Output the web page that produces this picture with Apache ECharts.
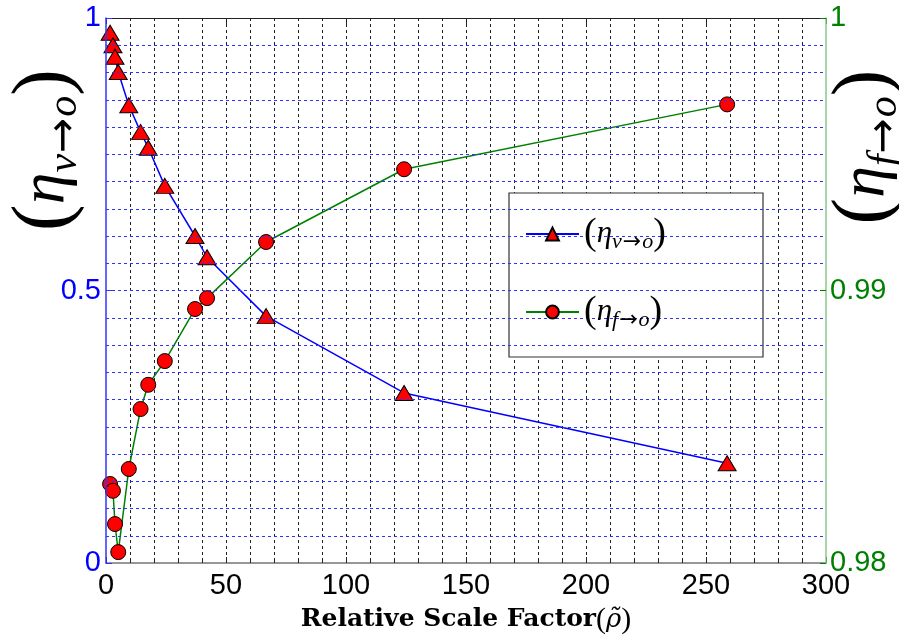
<!DOCTYPE html>
<html>
<head>
<meta charset="utf-8">
<script src="https://cdn.jsdelivr.net/npm/echarts@6/dist/echarts.min.js"></script>
<style>
  html, body { margin: 0; padding: 0; background: #fff; }
  #chart { width: 899px; height: 635px; }
</style>
</head>
<body>
<div id="chart"></div>
<script>
// relative scale factor (x) for both curves
const scaleFactor = [1.7, 2.9, 3.75, 5.1, 9.5, 14.4, 17.6, 24.5, 37.1, 42.1, 66.7, 124.2, 258.8];
// eta v->o (left axis)
const etaVO = [0.973, 0.950, 0.929, 0.901, 0.840, 0.791, 0.762, 0.692, 0.600, 0.561, 0.453, 0.312, 0.183];
// eta f->o (right axis)
const etaFO = [0.98290, 0.98265, 0.98143, 0.98040, 0.98345, 0.98565, 0.98654, 0.98741, 0.98932, 0.98972, 0.99178, 0.99445, 0.99683];
const xTicks = [0, 50, 100, 150, 200, 250, 300];
const seriesNames = ['etaVO', 'etaFO'];

const chart = echarts.init(document.getElementById('chart'));

const mathFont = '"Liberation Serif", "DejaVu Serif", serif';

// rich styles for math labels; sub sits lower than main
const mathRich = (color, main, paren, sub) => ({
  p: { fontFamily: mathFont, fontSize: paren, color: color, lineHeight: paren, verticalAlign: 'middle' },
  e: { fontFamily: mathFont, fontStyle: 'italic', fontSize: main, color: color, lineHeight: paren, verticalAlign: 'middle' },
  s: { fontFamily: mathFont, fontStyle: 'italic', fontSize: sub, color: color, lineHeight: sub, verticalAlign: 'bottom' },
  a: { fontFamily: '"DejaVu Sans", sans-serif', fontSize: sub, color: color, lineHeight: sub, verticalAlign: 'bottom', padding: [0, 1, 0, 1] }
});

const legendLabel = {
  etaVO: '{p|(}{e|η}{s|v}{a|→}{s|o}{p|)}',
  etaFO: '{p|(}{e|η}{s|f}{a|→}{s|o}{p|)}'
};

const dashBlack = { color: '#222', type: [3, 3], width: 1 };
const dashBlue = { color: '#3030ff', type: [3, 3], width: 1 };
const tickFont = 'Arial, "Liberation Sans", sans-serif';

const option = {
  animation: false,
  backgroundColor: '#fff',
  grid: { left: 106, right: 73, top: 18, bottom: 72, containLabel: false, outerBoundsMode: 'none' },
  xAxis: [
    {
      type: 'value',
      min: 0,
      max: 300,
      interval: 50,
      position: 'bottom',
      axisLine: { show: true, onZero: false, lineStyle: { color: '#777', width: 1.5 } },
      axisTick: { show: true, inside: true, length: 6, lineStyle: { color: '#222' } },
      axisLabel: {
        color: '#000', fontSize: 29, fontFamily: tickFont, margin: 8,
        formatter: v => (xTicks.includes(v) ? String(v) : '')
      },
      splitLine: { show: true, showMinLine: false, showMaxLine: false, lineStyle: dashBlack },
      minorTick: { show: true, splitNumber: 5, length: 3, lineStyle: { color: '#222' } },
      minorSplitLine: { show: true, lineStyle: dashBlack },
      name: '{b|Relative Scale Factor}{r|(}{i|ρ̃}{r|)}',
      nameLocation: 'middle',
      nameGap: 38,
      nameTextStyle: {
        rich: {
          b: { fontFamily: '"DejaVu Serif", serif', fontWeight: 'bold', fontSize: 25, color: '#000' },
          r: { fontFamily: mathFont, fontSize: 30, color: '#000' },
          i: { fontFamily: '"DejaVu Serif", serif', fontStyle: 'italic', fontSize: 26, color: '#000' }
        }
      }
    },
    {
      type: 'value',
      min: 0,
      max: 300,
      interval: 50,
      position: 'top',
      axisLine: { show: true, onZero: false, lineStyle: { color: '#222', width: 1 } },
      axisTick: { show: true, inside: true, length: 6, lineStyle: { color: '#222' } },
      minorTick: { show: true, splitNumber: 5, length: 3, lineStyle: { color: '#222' } },
      axisLabel: { show: false },
      splitLine: { show: false }
    }
  ],
  yAxis: [
    {
      type: 'value',
      min: 0,
      max: 1,
      interval: 0.5,
      position: 'left',
      z: 5,
      axisLine: { show: true, onZero: false, lineStyle: { color: '#3333ff', width: 1.5 } },
      axisTick: { show: true, inside: true, length: 6, lineStyle: { color: '#3333ff' } },
      axisLabel: { color: '#0000ff', fontSize: 29, fontFamily: tickFont, margin: 5 },
      splitLine: { show: true, showMinLine: false, showMaxLine: false, lineStyle: dashBlue },
      minorTick: { show: false, splitNumber: 10 },
      minorSplitLine: { show: true, lineStyle: dashBlue }
    },
    {
      type: 'value',
      min: 0.98,
      max: 1,
      interval: 0.01,
      position: 'right',
      z: 5,
      axisLine: { show: true, onZero: false, lineStyle: { color: '#88c888', width: 1.5 } },
      axisTick: { show: true, inside: true, length: 6, lineStyle: { color: '#008000' } },
      axisLabel: {
        color: '#008000', fontSize: 29, fontFamily: tickFont, margin: 4,
        formatter: v => (v >= 0.9999 ? '1' : v.toFixed(2))
      },
      splitLine: { show: false }
    }
  ],
  legend: {
    orient: 'vertical',
    left: 520,
    top: 210,
    itemWidth: 53,
    itemHeight: 16,
    itemGap: 40,
    z: 10,
    data: seriesNames,
    formatter: name => legendLabel[name],
    textStyle: { rich: mathRich('#000', 31, 38, 22) }
  },
  graphic: [
    {
      type: 'rect',
      z: 5,
      shape: { x: 509, y: 193, width: 254, height: 164 },
      style: { fill: '#fff', stroke: '#333', lineWidth: 1.2 }
    },
    {
      type: 'text',
      x: 46,
      y: 150,
      rotation: Math.PI / 2,
      style: {
        text: '{p|(}{e|η}{s|v}{a|→}{s|o}{p|)}',
        align: 'center',
        verticalAlign: 'middle',
        rich: mathRich('#0000ff', 64, 80, 42)
      }
    },
    {
      type: 'text',
      x: 866,
      y: 147,
      rotation: Math.PI / 2,
      style: {
        text: '{p|(}{e|η}{s|f}{a|→}{s|o}{p|)}',
        align: 'center',
        verticalAlign: 'middle',
        rich: mathRich('#008000', 64, 80, 42)
      }
    }
  ],
  series: [
    {
      name: 'etaVO',
      type: 'line',
      xAxisIndex: 0,
      yAxisIndex: 0,
      data: scaleFactor.map((x, i) => [x, etaVO[i]]),
      symbol: 'triangle',
      symbolSize: [18, 15],
      lineStyle: { color: '#0000ff', width: 1.5 },
      itemStyle: { color: '#ff0000', borderColor: '#000', borderWidth: 1 },
      z: 3
    },
    {
      name: 'etaFO',
      type: 'line',
      xAxisIndex: 0,
      yAxisIndex: 1,
      data: scaleFactor.map((x, i) => [x, etaFO[i]]),
      symbol: 'circle',
      symbolSize: 15,
      lineStyle: { color: '#008000', width: 1.5 },
      itemStyle: { color: '#ff0000', borderColor: '#000', borderWidth: 1 },
      z: 3
    }
  ]
};

chart.setOption(option);
</script>
</body>
</html>
